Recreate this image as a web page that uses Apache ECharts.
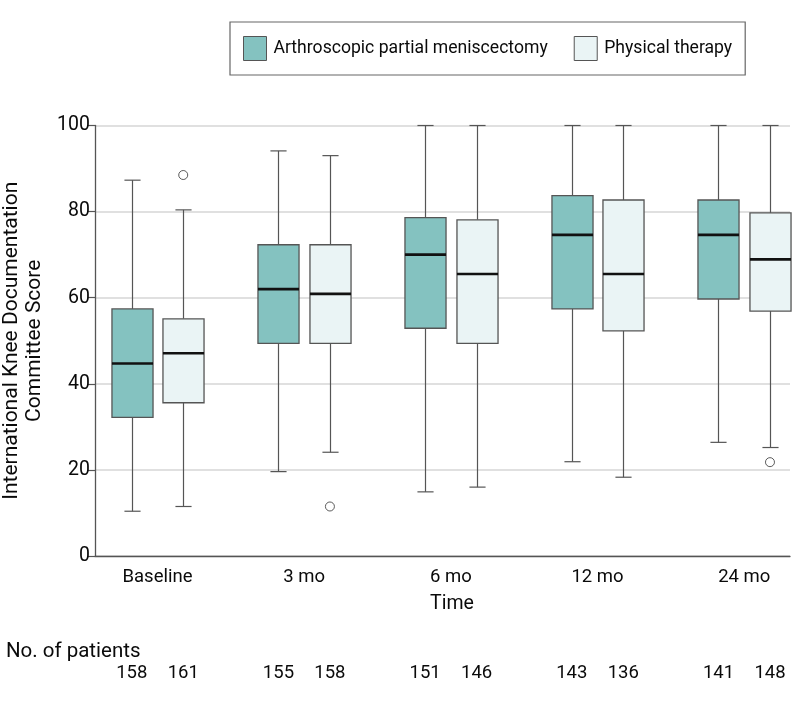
<!DOCTYPE html>
<html>
<head>
<meta charset="utf-8">
<script src="https://cdn.jsdelivr.net/npm/echarts@6/dist/echarts.min.js"></script>
<style>html,body{margin:0;padding:0;background:#fff;}#main{width:798px;height:703px;}</style>
</head>
<body>
<div id="main"></div>
<script>
// ---- data ----
const categories = ['Baseline', '3 mo', '6 mo', '12 mo', '24 mo'];
const seriesNames = ['Arthroscopic partial meniscectomy', 'Physical therapy'];
// [min, Q1, median, Q3, max]
const apmStats = [
  [10.4, 32.2, 44.7, 57.4, 87.3],
  [19.6, 49.4, 62.0, 72.3, 94.1],
  [14.9, 52.9, 70.0, 78.6, 100],
  [21.9, 57.4, 74.6, 83.7, 100],
  [26.4, 59.7, 74.6, 82.7, 100]
];
const ptStats = [
  [11.5, 35.6, 47.1, 55.1, 80.4],
  [24.1, 49.4, 60.9, 72.3, 93.0],
  [16.0, 49.4, 65.5, 78.1, 100],
  [18.3, 52.3, 65.5, 82.7, 100],
  [25.2, 56.9, 68.9, 79.7, 100]
];
const apmOutliers = [];
const ptOutliers = [[0, 88.5], [1, 11.5], [4, 21.8]]; // [category index, value]
const apmCounts = [158, 155, 151, 143, 141];
const ptCounts = [161, 158, 146, 136, 148];

// ---- layout helpers ----
const FONT = 'Roboto';
const OFF = 0.1755;      // group offset in category units
const BOXW = 0.28;       // box width in category units
const CAPW = 0.11;       // whisker cap width
const X_MIN = -0.426, X_MAX = 4.312;
const colors = ['#84C2C0', '#EAF4F5'];
const lineColor = '#555555';
const textColor = '#0a0a0a';

function boxData(stats, off) {
  return stats.map((s, i) => [i + off].concat(s));
}
function outData(list, off) {
  return list.map(o => [o[0] + off, o[1]]);
}
// positions of the count labels (one per box)
const countPositions = [];
categories.forEach((c, i) => { countPositions.push(i - OFF, i + OFF); });
function countFor(v) {
  const i = Math.round(v);
  return v < i ? apmCounts[i] : ptCounts[i];
}

function renderBox(fill) {
  return function (params, api) {
    const x = api.value(0);
    const mn = api.coord([x, api.value(1)]);
    const q1 = api.coord([x, api.value(2)]);
    const md = api.coord([x, api.value(3)]);
    const q3 = api.coord([x, api.value(4)]);
    const mx = api.coord([x, api.value(5)]);
    const hw = api.size([BOXW, 0])[0] / 2;
    const cw = api.size([CAPW, 0])[0] / 2;
    const cx = Math.round(mn[0]) + 0.5;
    const ls = { stroke: lineColor, lineWidth: 1.2 };
    return {
      type: 'group',
      children: [
        { type: 'line', shape: { x1: cx, y1: mx[1], x2: cx, y2: q3[1] }, style: ls },
        { type: 'line', shape: { x1: cx, y1: q1[1], x2: cx, y2: mn[1] }, style: ls },
        { type: 'line', shape: { x1: cx - cw, y1: mx[1], x2: cx + cw, y2: mx[1] }, style: ls },
        { type: 'line', shape: { x1: cx - cw, y1: mn[1], x2: cx + cw, y2: mn[1] }, style: ls },
        { type: 'rect', shape: { x: cx - hw, y: q3[1], width: hw * 2, height: q1[1] - q3[1] },
          style: { fill: fill, stroke: lineColor, lineWidth: 1.3 } },
        { type: 'line', shape: { x1: cx - hw, y1: md[1], x2: cx + hw, y2: md[1] },
          style: { stroke: '#111', lineWidth: 2.6 } }
      ]
    };
  };
}

const chart = echarts.init(document.getElementById('main'), null, { renderer: 'canvas' });
const option = {
  animation: false,
  backgroundColor: '#fff',
  textStyle: { fontFamily: FONT },
  title: {
    text: 'No. of patients', left: 1, top: 636,
    textStyle: { fontFamily: FONT, fontSize: 20.5, fontWeight: 'normal', color: textColor }
  },
  legend: {
    left: 230, top: 22,
    padding: [14, 13, 14, 13],
    borderColor: '#666', borderWidth: 1.2,
    itemWidth: 23, itemHeight: 24, itemGap: 26,
    textStyle: { fontFamily: FONT, fontSize: 17.6, color: textColor, padding: [0, 0, 0, 2] },
    data: [
      { name: seriesNames[0], icon: 'rect', itemStyle: { color: colors[0], borderColor: lineColor, borderWidth: 1 } },
      { name: seriesNames[1], icon: 'rect', itemStyle: { color: colors[1], borderColor: lineColor, borderWidth: 1 } }
    ]
  },
  grid: [
    { left: 95, right: 8, top: 125.5, bottom: 147, containLabel: false, outerBoundsMode: 'none' },
    { left: 95, right: 8, top: 655, height: 1, containLabel: false, outerBoundsMode: 'none' }
  ],
  xAxis: [
    {
      type: 'value', gridIndex: 0, min: X_MIN, max: X_MAX,
      name: 'Time', nameLocation: 'middle', nameGap: 38,
      nameTextStyle: { fontFamily: FONT, fontSize: 19.5, color: textColor, padding: [0, 0, 0, 19] },
      axisLine: { show: true, onZero: false, lineStyle: { color: lineColor, width: 1.3 } },
      axisTick: { show: false },
      splitLine: { show: false },
      axisLabel: {
        show: true, customValues: [0, 1, 2, 3, 4], margin: 12,
        formatter: v => categories[Math.round(v)] || '',
        fontFamily: FONT, fontSize: 18.5, color: textColor
      }
    },
    {
      type: 'value', gridIndex: 1, min: X_MIN, max: X_MAX, position: 'bottom',
      axisLine: { show: false }, axisTick: { show: false }, splitLine: { show: false },
      axisLabel: {
        show: true, customValues: countPositions, margin: 8,
        formatter: v => String(countFor(v)),
        fontFamily: FONT, fontSize: 18.5, color: textColor
      }
    }
  ],
  yAxis: [
    {
      type: 'value', gridIndex: 0, min: 0, max: 100, interval: 20,
      name: 'International Knee Documentation\nCommittee Score',
      nameLocation: 'middle', nameRotate: 90, nameGap: 48,
      nameTextStyle: { fontFamily: FONT, fontSize: 21, color: textColor, lineHeight: 23 },
      axisLine: { show: true, onZero: false, lineStyle: { color: lineColor, width: 1.3 } },
      axisTick: { show: true, inside: false, length: 7, lineStyle: { color: lineColor, width: 1.2 } },
      axisLabel: { fontFamily: FONT, fontSize: 19.5, color: textColor, margin: 5 },
      splitLine: { show: true, lineStyle: { color: '#D6D6D6', width: 1.6 } }
    },
    { type: 'value', gridIndex: 1, min: 0, max: 1, show: false }
  ],
  series: [
    {
      name: seriesNames[0], type: 'custom', xAxisIndex: 0, yAxisIndex: 0,
      renderItem: renderBox(colors[0]),
      encode: { x: 0, y: [1, 2, 3, 4, 5] },
      itemStyle: { color: colors[0] },
      data: boxData(apmStats, -OFF), z: 3
    },
    {
      name: seriesNames[1], type: 'custom', xAxisIndex: 0, yAxisIndex: 0,
      renderItem: renderBox(colors[1]),
      encode: { x: 0, y: [1, 2, 3, 4, 5] },
      itemStyle: { color: colors[1] },
      data: boxData(ptStats, OFF), z: 3
    },
    {
      type: 'scatter', xAxisIndex: 0, yAxisIndex: 0, symbol: 'circle', symbolSize: 9,
      itemStyle: { color: '#fff', borderColor: '#333', borderWidth: 1 },
      data: outData(apmOutliers, -OFF).concat(outData(ptOutliers, OFF)), z: 4
    }
  ]
};
chart.setOption(option);
</script>
</body>
</html>
